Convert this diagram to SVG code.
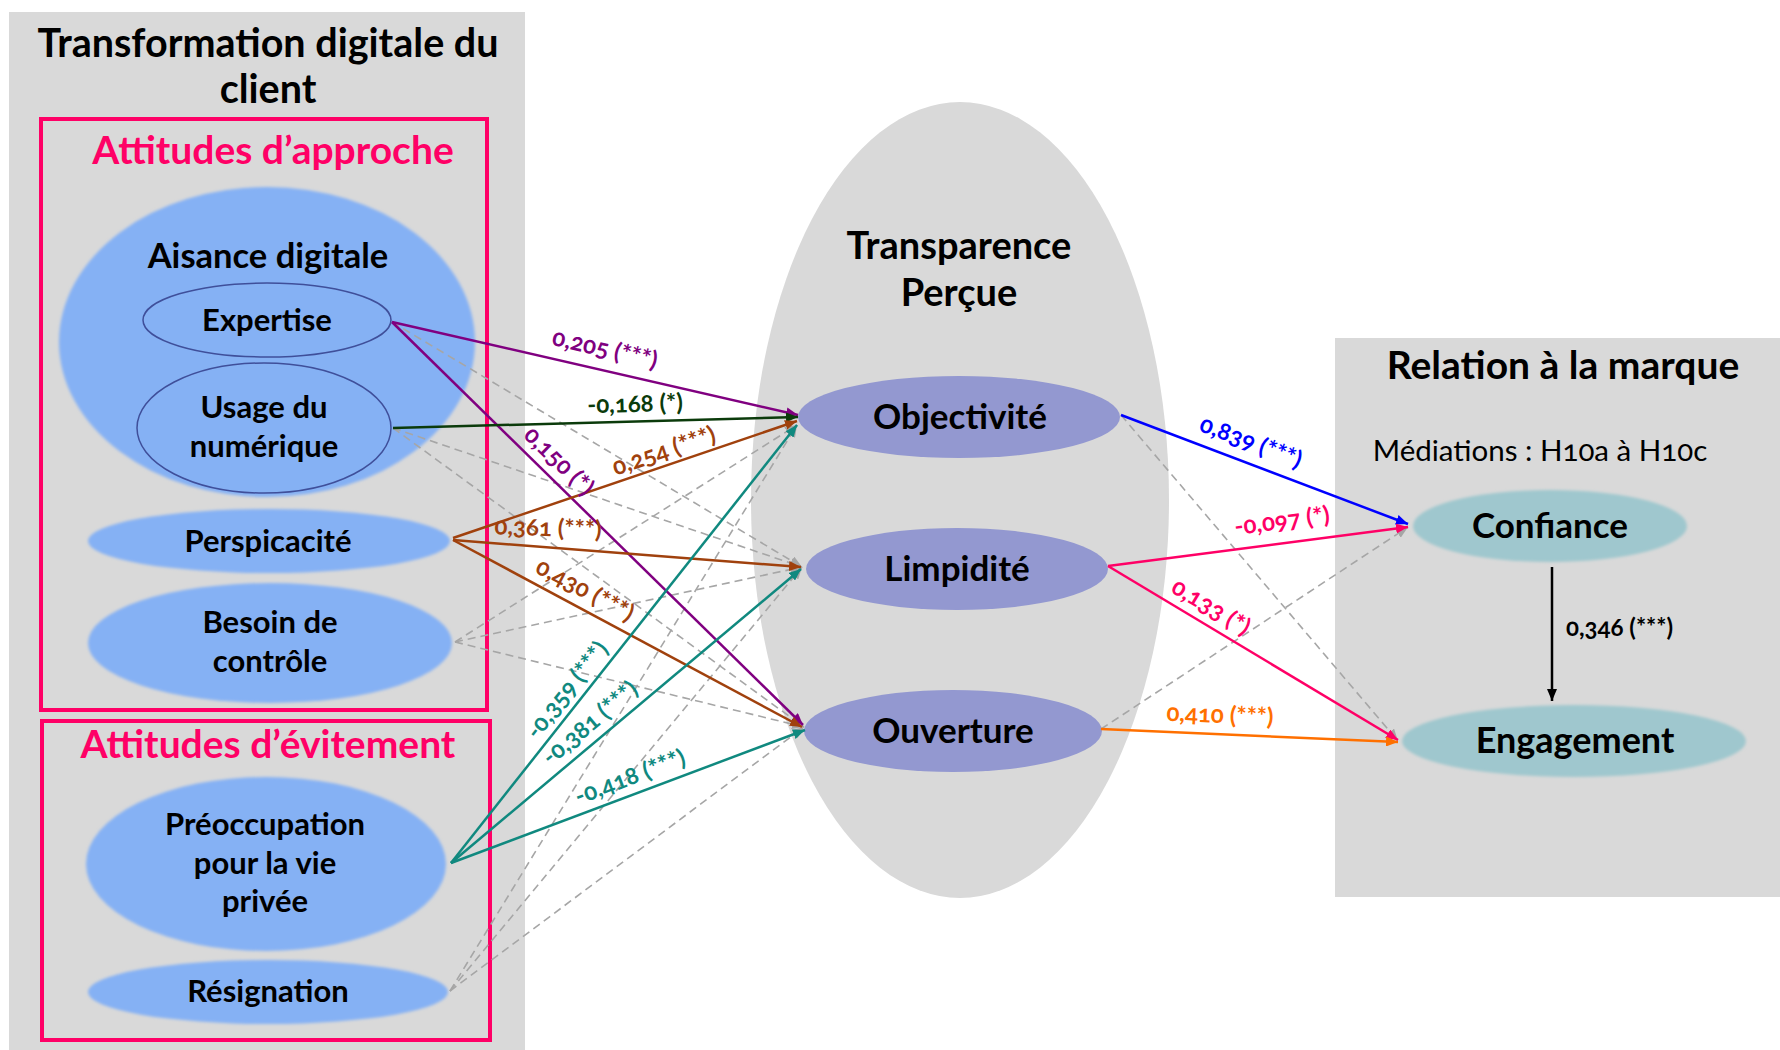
<svg xmlns="http://www.w3.org/2000/svg" width="1780" height="1050" viewBox="0 0 1780 1050">
<defs>
<style>
.t{font-family:Lato,"Open Sans","Liberation Sans",sans-serif;font-weight:bold;fill:#000;text-anchor:middle}
.n{font-size:31px}
.pk{fill:#FF0066}
.lb{font-family:Lato,"Open Sans","Liberation Sans",sans-serif;font-weight:bold;font-size:24px;text-anchor:middle;font-variant-numeric:oldstyle-nums}
.c{fill:none;stroke-width:2.5}
.d{fill:none;stroke:#A6A6A6;stroke-width:1.6;stroke-dasharray:8 5}
.blue{fill:#85B1F4}
.peri{fill:#9398D0}
.teal{fill:#9FC7CE}
.bg{fill:#D9D9D9}
</style>
<filter id="soft" x="-5%" y="-5%" width="110%" height="110%"><feGaussianBlur stdDeviation="1.5"/></filter>
<marker id="mPu" viewBox="0 0 12 10" refX="12" refY="5" markerWidth="12" markerHeight="10" markerUnits="userSpaceOnUse" orient="auto"><path d="M0,0 L12,5 L0,10 z" fill="#800080"/></marker>
<marker id="mGr" viewBox="0 0 12 10" refX="12" refY="5" markerWidth="12" markerHeight="10" markerUnits="userSpaceOnUse" orient="auto"><path d="M0,0 L12,5 L0,10 z" fill="#0B3B0B"/></marker>
<marker id="mBr" viewBox="0 0 12 10" refX="12" refY="5" markerWidth="12" markerHeight="10" markerUnits="userSpaceOnUse" orient="auto"><path d="M0,0 L12,5 L0,10 z" fill="#A0410D"/></marker>
<marker id="mTe" viewBox="0 0 12 10" refX="12" refY="5" markerWidth="12" markerHeight="10" markerUnits="userSpaceOnUse" orient="auto"><path d="M0,0 L12,5 L0,10 z" fill="#10897F"/></marker>
<marker id="mBl" viewBox="0 0 12 10" refX="12" refY="5" markerWidth="12" markerHeight="10" markerUnits="userSpaceOnUse" orient="auto"><path d="M0,0 L12,5 L0,10 z" fill="#0000FF"/></marker>
<marker id="mPk" viewBox="0 0 12 10" refX="12" refY="5" markerWidth="12" markerHeight="10" markerUnits="userSpaceOnUse" orient="auto"><path d="M0,0 L12,5 L0,10 z" fill="#FF0066"/></marker>
<marker id="mOr" viewBox="0 0 12 10" refX="12" refY="5" markerWidth="12" markerHeight="10" markerUnits="userSpaceOnUse" orient="auto"><path d="M0,0 L12,5 L0,10 z" fill="#FF7000"/></marker>
<marker id="mGy" viewBox="0 0 12 10" refX="12" refY="5" markerWidth="12" markerHeight="10" markerUnits="userSpaceOnUse" orient="auto"><path d="M0,0 L12,5 L0,10 z" fill="#A6A6A6"/></marker>
<marker id="mBk" viewBox="0 0 12 10" refX="12" refY="5" markerWidth="12" markerHeight="10" markerUnits="userSpaceOnUse" orient="auto"><path d="M0,0 L12,5 L0,10 z" fill="#000"/></marker>
</defs>
<rect width="1780" height="1050" fill="#fff"/>

<g id="transformation-digitale">
<rect class="bg" x="9" y="12" width="516" height="1038"/>
<text class="t" x="268" y="57" font-size="39.5">Transformation digitale du</text>
<text class="t" x="268" y="103" font-size="39.5">client</text>
</g>
<g id="attitudes-approche">
<rect x="41" y="119" width="446" height="591" fill="none" stroke="#FF0066" stroke-width="4"/>
<text class="t pk" x="273" y="164" font-size="39">Attitudes d’approche</text>
</g>
<g id="attitudes-evitement">
<rect x="42" y="721" width="448" height="319" fill="none" stroke="#FF0066" stroke-width="4"/>
<text class="t pk" x="268" y="758" font-size="39">Attitudes d’évitement</text>
</g>
<g id="aisance-digitale">
<ellipse class="blue" cx="267" cy="342" rx="208" ry="155" filter="url(#soft)"/>
<text class="t" x="268" y="268" font-size="34.5">Aisance digitale</text>
</g>
<g id="expertise">
<ellipse class="blue" cx="267" cy="320" rx="124" ry="37" stroke="#3F4F9A" stroke-width="1.5"/>
<text class="t n" x="267" y="331">Expertise</text>
</g>
<g id="usage-numerique">
<ellipse class="blue" cx="264" cy="428" rx="127" ry="65" stroke="#3F4F9A" stroke-width="1.5"/>
<text class="t n" x="264" y="418">Usage du</text>
<text class="t n" x="264" y="457">numérique</text>
</g>
<g id="perspicacite">
<ellipse class="blue" cx="269" cy="541" rx="181" ry="32" filter="url(#soft)"/>
<text class="t n" x="268" y="552">Perspicacité</text>
</g>
<g id="besoin-controle">
<ellipse class="blue" cx="270" cy="643" rx="182" ry="60" filter="url(#soft)"/>
<text class="t n" x="270" y="633">Besoin de</text>
<text class="t n" x="270" y="672">contrôle</text>
</g>
<g id="preoccupation">
<ellipse class="blue" cx="266" cy="864" rx="180" ry="87" filter="url(#soft)"/>
<text class="t n" x="265" y="835">Préoccupation</text>
<text class="t n" x="265" y="874">pour la vie</text>
<text class="t n" x="265" y="912">privée</text>
</g>
<g id="resignation">
<ellipse class="blue" cx="268" cy="992" rx="180" ry="32" filter="url(#soft)"/>
<text class="t n" x="268" y="1002">Résignation</text>
</g>

<g id="transparence-percue">
<ellipse class="bg" cx="960" cy="500" rx="209" ry="398"/>
<text class="t" x="959" y="259" font-size="38">Transparence</text>
<text class="t" x="959" y="306" font-size="38">Perçue</text>
</g>
<g id="objectivite">
<ellipse class="peri" cx="959" cy="417" rx="161" ry="41"/>
<text class="t" x="960" y="429" font-size="35">Objectivité</text>
</g>
<g id="limpidite">
<ellipse class="peri" cx="957" cy="569" rx="151" ry="41"/>
<text class="t" x="957" y="581" font-size="35">Limpidité</text>
</g>
<g id="ouverture">
<ellipse class="peri" cx="953" cy="731" rx="149" ry="41"/>
<text class="t" x="953" y="743" font-size="35">Ouverture</text>
</g>

<g id="relation-marque">
<rect class="bg" x="1335" y="338" width="445" height="559"/>
<text class="t" x="1563" y="379" font-size="39">Relation à la marque</text>
<text x="1540" y="461" font-size="29.5" font-family="Lato,'Open Sans','Liberation Sans',sans-serif" text-anchor="middle" style="font-variant-numeric:oldstyle-nums">Médiations : H10a à H10c</text>
</g>
<g id="confiance">
<ellipse class="teal" cx="1550" cy="526" rx="137" ry="36" filter="url(#soft)"/>
<text class="t" x="1550" y="538" font-size="35">Confiance</text>
</g>
<g id="engagement">
<ellipse class="teal" cx="1574" cy="741" rx="172" ry="36" filter="url(#soft)"/>
<text class="t" x="1575" y="753" font-size="36">Engagement</text>
</g>

<g id="connectors">
<line class="d" x1="392" y1="322" x2="802" y2="567" marker-end="url(#mGy)"/>
<line class="d" x1="393" y1="428" x2="802" y2="567" marker-end="url(#mGy)"/>
<line class="d" x1="393" y1="428" x2="804" y2="727" marker-end="url(#mGy)"/>
<line class="d" x1="455" y1="642" x2="797" y2="425" marker-end="url(#mGy)"/>
<line class="d" x1="455" y1="642" x2="802" y2="567" marker-end="url(#mGy)"/>
<line class="d" x1="455" y1="642" x2="804" y2="727" marker-end="url(#mGy)"/>
<line class="d" x1="450" y1="991" x2="797" y2="425" marker-end="url(#mGy)"/>
<line class="d" x1="450" y1="991" x2="802" y2="567" marker-end="url(#mGy)"/>
<line class="d" x1="450" y1="991" x2="804" y2="727" marker-end="url(#mGy)"/>
<line class="d" x1="1121" y1="415" x2="1398" y2="741" marker-end="url(#mGy)"/>
<line class="d" x1="1101" y1="729" x2="1408" y2="527" marker-end="url(#mGy)"/>
<line class="c" stroke="#800080" x1="392" y1="322" x2="798" y2="415" marker-end="url(#mPu)"/>
<line class="c" stroke="#800080" x1="392" y1="322" x2="803" y2="725" marker-end="url(#mPu)"/>
<line class="c" stroke="#0B3B0B" x1="393" y1="428" x2="798" y2="417" marker-end="url(#mGr)"/>
<line class="c" stroke="#A0410D" x1="453" y1="538" x2="797" y2="421" marker-end="url(#mBr)"/>
<line class="c" stroke="#A0410D" x1="453" y1="540" x2="801" y2="567" marker-end="url(#mBr)"/>
<line class="c" stroke="#A0410D" x1="453" y1="540" x2="802" y2="727" marker-end="url(#mBr)"/>
<line class="c" stroke="#10897F" x1="451" y1="863" x2="797" y2="425" marker-end="url(#mTe)"/>
<line class="c" stroke="#10897F" x1="451" y1="863" x2="801" y2="569" marker-end="url(#mTe)"/>
<line class="c" stroke="#10897F" x1="451" y1="863" x2="805" y2="730" marker-end="url(#mTe)"/>
<line class="c" stroke="#0000FF" x1="1121" y1="415" x2="1408" y2="524" marker-end="url(#mBl)"/>
<line class="c" stroke="#FF0066" x1="1108" y1="566" x2="1408" y2="527" marker-end="url(#mPk)"/>
<line class="c" stroke="#FF0066" x1="1108" y1="566" x2="1398" y2="740" marker-end="url(#mPk)"/>
<line class="c" stroke="#FF7000" x1="1101" y1="729" x2="1398" y2="742" marker-end="url(#mOr)"/>
<line class="c" stroke="#000" stroke-width="2" x1="1552" y1="567" x2="1552" y2="701" marker-end="url(#mBk)"/>
<text class="lb" fill="#800080" transform="translate(605,349) rotate(12.9)" y="8">0,205 (***)</text>
<text class="lb" fill="#800080" transform="translate(559,461) rotate(44.4)" y="8">0,150 (*)</text>
<text class="lb" fill="#0B3B0B" transform="translate(635,404) rotate(-1.6)" y="8">-0,168 (*)</text>
<text class="lb" fill="#A0410D" transform="translate(664,451) rotate(-18.6)" y="8">0,254 (***)</text>
<text class="lb" fill="#A0410D" transform="translate(548,528) rotate(2)" y="8">0,361 (***)</text>
<text class="lb" fill="#A0410D" transform="translate(585,590) rotate(27.9)" y="8">0,430 (***)</text>
<text class="lb" fill="#10897F" transform="translate(567,690) rotate(-51.6)" y="8">-0,359 (***)</text>
<text class="lb" fill="#10897F" transform="translate(590,723) rotate(-39.9)" y="8">-0,381 (***)</text>
<text class="lb" fill="#10897F" transform="translate(630,777) rotate(-20.6)" y="8">-0,418 (***)</text>
<text class="lb" fill="#0000FF" transform="translate(1251,442) rotate(20.8)" y="8">0,839 (***)</text>
<text class="lb" fill="#FF0066" transform="translate(1282,521) rotate(-7.4)" y="8">-0,097 (*)</text>
<text class="lb" fill="#FF0066" transform="translate(1211,607) rotate(31)" y="8">0,133 (*)</text>
<text class="lb" fill="#FF7000" transform="translate(1220,715) rotate(2.5)" y="8">0,410 (***)</text>
<text class="lb" fill="#000" x="1566" y="636" style="text-anchor:start">0,346 (***)</text>
</g>
</svg>
